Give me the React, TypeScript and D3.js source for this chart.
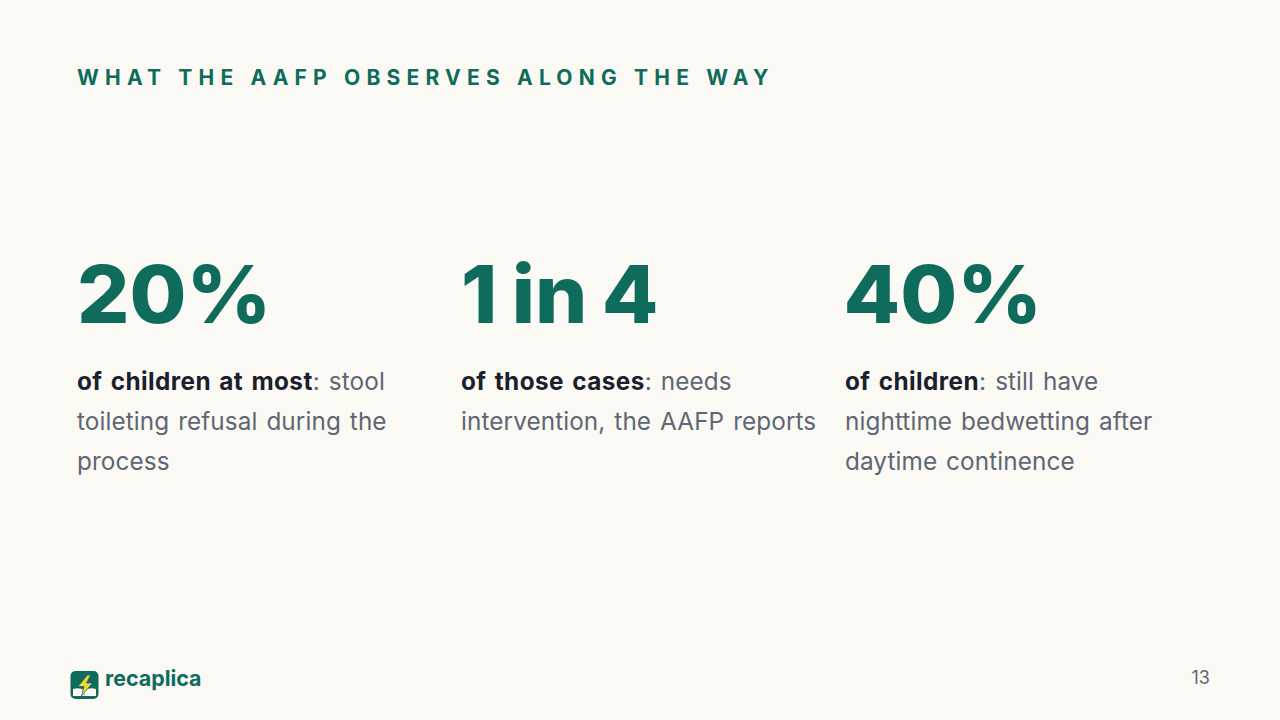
import React from "react";
import * as d3 from "d3";

const W = 1280, H = 720;
const BG = "#faf9f4", GREEN = "#0f6b5c", DARK = "#1a202c", GREY = "#5f6673";
const FONT = "Inter, sans-serif";

const heading = "WHAT THE AAFP OBSERVES ALONG THE WAY";
const stats = ["20%", "1 in 4", "40%"];
const leads = ["of children at most", "of those cases", "of children"];
const firstLines = [": stool", ": needs", ": still have"];
const restLines = [
  ["toileting refusal during the", "process"],
  ["intervention, the AAFP reports"],
  ["nighttime bedwetting after", "daytime continence"],
];
const brand = "recaplica";
const pageNo = "13";

const colX = d3.scalePoint<number>().domain([0, 1, 2]).range([77, 845]);

export default function App() {
  return (
    <svg width={W} height={H} viewBox={`0 0 ${W} ${H}`} style={{ position: "fixed", left: 0, top: 0, background: BG, fontFamily: FONT }}>
      <rect width={W} height={H} fill={BG} />
      <text x={77} y={85} fill={GREEN} fontSize={21} fontWeight={700} letterSpacing={6.2}>{heading}</text>
      {stats.map((s, i) => (
        <g key={s}>
          <text
            transform={`translate(${(colX(i) ?? 0) + (i === 2 ? -1.5 : 0)},323) scale(1.03,1)`}
            fill={GREEN}
            fontSize={80}
            fontWeight={800}
            wordSpacing={-3.5}
          >
            {s}
          </text>
          <text x={colX(i)} y={390} fontSize={24.3} fill={GREY} wordSpacing={2} letterSpacing={0.1}>
            <tspan fontWeight={700} fill={DARK} letterSpacing={0.45}>{leads[i]}</tspan>
            <tspan>{firstLines[i]}</tspan>
          </text>
          {restLines[i].map((l, j) => (
            <text key={l} x={colX(i)} y={430 + j * 39.5} fontSize={24.3} fill={GREY} wordSpacing={2} letterSpacing={0.1}>{l}</text>
          ))}
        </g>
      ))}
      <g>
        <rect x={70.5} y={671} width={28} height={28} rx={5} fill={GREEN} />
        <path d="M73 689 Q79 687 84.5 690 L84.5 696 L73 696 Z" fill="#faf9f4" />
        <path d="M96 689 Q90 687 84.5 690 L84.5 696 L96 696 Z" fill="#faf9f4" />
        <path d="M87.5 675 L78 686.5 L84 686.5 L81.5 696 L92.5 683 L86.5 683 L90.5 675 Z" fill="#f5d33c" stroke={GREEN} strokeWidth={0.7} />
      </g>
      <text x={105} y={686} fill={GREEN} fontSize={21.4} fontWeight={700}>{brand}</text>
      <text x={1210} y={684} textAnchor="end" fill={GREY} fontSize={18}>{pageNo}</text>
    </svg>
  );
}
